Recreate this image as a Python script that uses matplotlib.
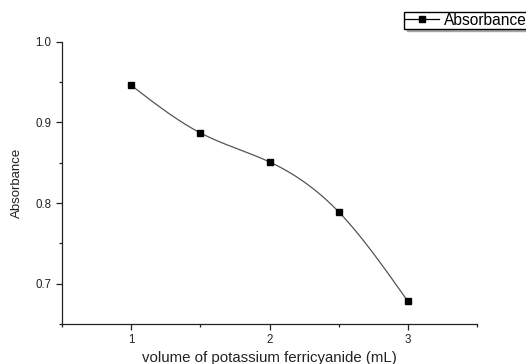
import matplotlib
matplotlib.use("Agg")
import matplotlib.pyplot as plt
import numpy as np
from matplotlib.ticker import MultipleLocator

plt.rcParams['font.family'] = ['Liberation Sans', 'DejaVu Sans']

volume = [1.0, 1.5, 2.0, 2.5, 3.0]
absorbance = [0.946, 0.887, 0.851, 0.789, 0.678]


def natural_spline(x, y, n=200):
    # natural cubic spline through the measured points
    x = np.asarray(x, float)
    y = np.asarray(y, float)
    k = len(x)
    h = np.diff(x)
    A = np.zeros((k, k))
    b = np.zeros(k)
    A[0, 0] = A[-1, -1] = 1
    for i in range(1, k - 1):
        A[i, i - 1] = h[i - 1]
        A[i, i] = 2 * (h[i - 1] + h[i])
        A[i, i + 1] = h[i]
        b[i] = 6 * ((y[i + 1] - y[i]) / h[i] - (y[i] - y[i - 1]) / h[i - 1])
    M = np.linalg.solve(A, b)
    xs = np.linspace(x[0], x[-1], n)
    idx = np.clip(np.searchsorted(x, xs) - 1, 0, k - 2)
    x0, x1 = x[idx], x[idx + 1]
    hh = x1 - x0
    t0, t1 = x1 - xs, xs - x0
    ys = (M[idx] * t0 ** 3 + M[idx + 1] * t1 ** 3) / (6 * hh) \
        + (y[idx] / hh - M[idx] * hh / 6) * t0 \
        + (y[idx + 1] / hh - M[idx + 1] * hh / 6) * t1
    return xs, ys


fig = plt.figure(figsize=(5.26, 3.64), dpi=100)
ax = fig.add_axes([0.118, 0.110, 0.789, 0.775])

xs, ys = natural_spline(volume, absorbance)
ax.plot(xs, ys, color='#555555', lw=0.9)
ax.plot(volume, absorbance, 's', color='black', markersize=4.3)

# legend handle: line with a square marker
ax.plot([], [], '-s', color='black', lw=0.9, markersize=4.3, label='Absorbance')

ax.set_xlim(0.5, 3.5)
ax.set_ylim(0.65, 1.0)
ax.xaxis.set_major_locator(MultipleLocator(1))
ax.xaxis.set_minor_locator(MultipleLocator(0.5))
ax.yaxis.set_major_locator(MultipleLocator(0.1))
ax.yaxis.set_minor_locator(MultipleLocator(0.05))
ax.set_yticks([0.7, 0.8, 0.9, 1.0])

for s in ['top', 'right']:
    ax.spines[s].set_visible(False)
for s in ['left', 'bottom']:
    ax.spines[s].set_linewidth(0.9)
    ax.spines[s].set_color('#222222')

ax.tick_params(which='major', direction='out', length=4, width=0.9,
               labelsize=8.3, colors='#222222', labelcolor='#222222')
ax.tick_params(which='minor', direction='out', length=2.5, width=0.9,
               colors='#222222')

ax.set_xlabel('volume of potassium ferricyanide (mL)', fontsize=10.8,
              color='#222222', labelpad=3)
ax.set_ylabel('Absorbance', fontsize=9.5, color='#222222', labelpad=9)

fig.legend(loc='upper left', bbox_to_anchor=(404 / 526, 1 - 12 / 364),
           fontsize=11.2, frameon=True, fancybox=False,
           shadow={'color': '#9a9a9a', 'alpha': 0.8},
           edgecolor='black', handlelength=2.2, handletextpad=0.3,
           borderpad=0.05, borderaxespad=0, framealpha=1)

fig.savefig('out.png', dpi=100)
